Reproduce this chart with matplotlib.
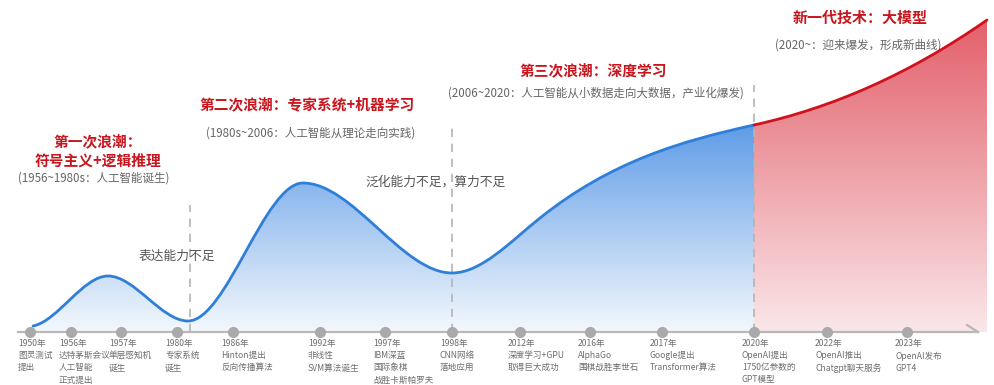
import numpy as np
import matplotlib
matplotlib.use('Agg')
import matplotlib.pyplot as plt
from matplotlib.path import Path
from matplotlib.patches import PathPatch
from matplotlib.colors import LinearSegmentedColormap

plt.rcParams['font.family'] = ['Noto Sans CJK SC', 'DejaVu Sans']

# timeline milestones (position along the axis) and their captions
milestone_pos = [30, 71, 121, 177, 233, 320, 385, 452, 520, 590, 662, 754, 827, 907]
milestone_text = [
    '1950年\n图灵测试\n提出',
    '1956年\n达特茅斯会议\n人工智能\n正式提出',
    '1957年\n单层感知机\n诞生',
    '1980年\n专家系统\n诞生',
    '1986年\nHinton提出\n反向传播算法',
    '1992年\n非线性\nSVM算法诞生',
    '1997年\nIBM深蓝\n国际象棋\n战胜卡斯帕罗夫',
    '1998年\nCNN网络\n落地应用',
    '2012年\n深度学习+GPU\n取得巨大成功',
    '2016年\nAlphaGo\n围棋战胜李世石',
    '2017年\nGoogle提出\nTransformer算法',
    '2020年\nOpenAI提出\n1750亿参数的\nGPT模型',
    '2022年\nOpenAI推出\nChatgpt聊天服务',
    '2023年\nOpenAI发布\nGPT4',
]

# heat curve anchors: position, level, slope
blue_x = [33, 108, 188, 303, 452, 540, 754]
blue_y = [6, 56, 11, 149, 59, 114, 207]
blue_s = [0.2, 0, 0, 0, 0, 0.8, 0.22]
red_x = [754, 987]
red_y = [207, 312]
red_s = [0.22, 0.7]

# bottlenecks between waves
gap_pos = [190, 452, 754]
gap_top = [127, 204, 247]

BASE_END = 978


def hermite_path(xs, ys, ss):
    verts = [(xs[0], ys[0])]
    codes = [Path.MOVETO]
    for i in range(len(xs) - 1):
        h = (xs[i + 1] - xs[i]) / 3.0
        verts += [(xs[i] + h, ys[i] + ss[i] * h),
                  (xs[i + 1] - h, ys[i + 1] - ss[i + 1] * h),
                  (xs[i + 1], ys[i + 1])]
        codes += [Path.CURVE4] * 3
    return verts, codes


def area_path(xs, ys, ss):
    verts, codes = hermite_path(xs, ys, ss)
    verts += [(xs[-1], 0), (xs[0], 0), (xs[0], ys[0])]
    codes += [Path.LINETO, Path.LINETO, Path.CLOSEPOLY]
    return Path(verts, codes)


fig = plt.figure(figsize=(9.95, 3.85), dpi=100)
ax = fig.add_axes([0, 0, 1, 1])
ax.set_xlim(0, 995)
ax.set_ylim(-53, 332)
ax.axis('off')

grad = np.linspace(0, 1, 256).reshape(-1, 1)
blue_cmap = LinearSegmentedColormap.from_list('b', ['#f4f8fd', '#5f9ce7'])
red_cmap = LinearSegmentedColormap.from_list('r', ['#fae7e9', '#e3606b'])

for xs, ys, ss, cmap, lc in [(blue_x, blue_y, blue_s, blue_cmap, '#2f7fd9'),
                             (red_x, red_y, red_s, red_cmap, '#d0111e')]:
    patch = PathPatch(area_path(xs, ys, ss), facecolor='none', edgecolor='none')
    ax.add_patch(patch)
    im = ax.imshow(grad, extent=[xs[0], xs[-1], 0, max(ys)], origin='lower',
                   aspect='auto', cmap=cmap, zorder=1)
    im.set_clip_path(patch)
    v, c = hermite_path(xs, ys, ss)
    ax.add_patch(PathPatch(Path(v, c), facecolor='none', edgecolor=lc,
                           lw=2.0, capstyle='round', zorder=4))

# dashed separators
for gx, gt in zip(gap_pos, gap_top):
    ax.plot([gx, gx], [0, gt], color='#b4b4b4', lw=1.2, ls=(0, (5, 4)), zorder=3)

# time axis
ax.plot([18, BASE_END], [0, 0], color='#b8b8b8', lw=1.6, zorder=5)
ax.plot([967, BASE_END], [7, 0], color='#b8b8b8', lw=1.6, zorder=5)
ax.plot(milestone_pos, [0] * len(milestone_pos), 'o', color='#aaaaaa',
        ms=7, zorder=6)

for x, t in zip(milestone_pos, milestone_text):
    ax.text(x - 12, -7, t, ha='left', va='top', fontsize=6.2, color='#6e6e6e',
            linespacing=1.45)

red = '#c8161e'
grey = '#666666'
ax.text(98, 181, '第一次浪潮：\n符号主义+逻辑推理', ha='center', va='center',
        fontsize=10.6, color=red, fontweight='bold', linespacing=1.2)
ax.text(94, 154, '(1956~1980s：人工智能诞生)', ha='center', va='center',
        fontsize=8.3, color=grey)
ax.text(307, 228, '第二次浪潮：专家系统+机器学习', ha='center', va='center',
        fontsize=10.6, color=red, fontweight='bold')
ax.text(311, 199, '(1980s~2006：人工智能从理论走向实践)', ha='center', va='center',
        fontsize=8.3, color=grey)
ax.text(593, 262, '第三次浪潮：深度学习', ha='center', va='center',
        fontsize=10.6, color=red, fontweight='bold')
ax.text(596, 239, '(2006~2020：人工智能从小数据走向大数据，产业化爆发)', ha='center',
        va='center', fontsize=8.3, color=grey)
ax.text(860, 314, '新一代技术：大模型', ha='center', va='center',
        fontsize=10.8, color=red, fontweight='bold')
ax.text(858, 287, '(2020~：迎来爆发，形成新曲线)', ha='center', va='center',
        fontsize=8.3, color=grey)
ax.text(177, 76, '表达能力不足', ha='center', va='center', fontsize=9.2,
        color='#555555', zorder=7)
ax.text(436, 150, '泛化能力不足，算力不足', ha='center', va='center', fontsize=9.2,
        color='#555555', zorder=7)

plt.savefig('out.png', dpi=100)
